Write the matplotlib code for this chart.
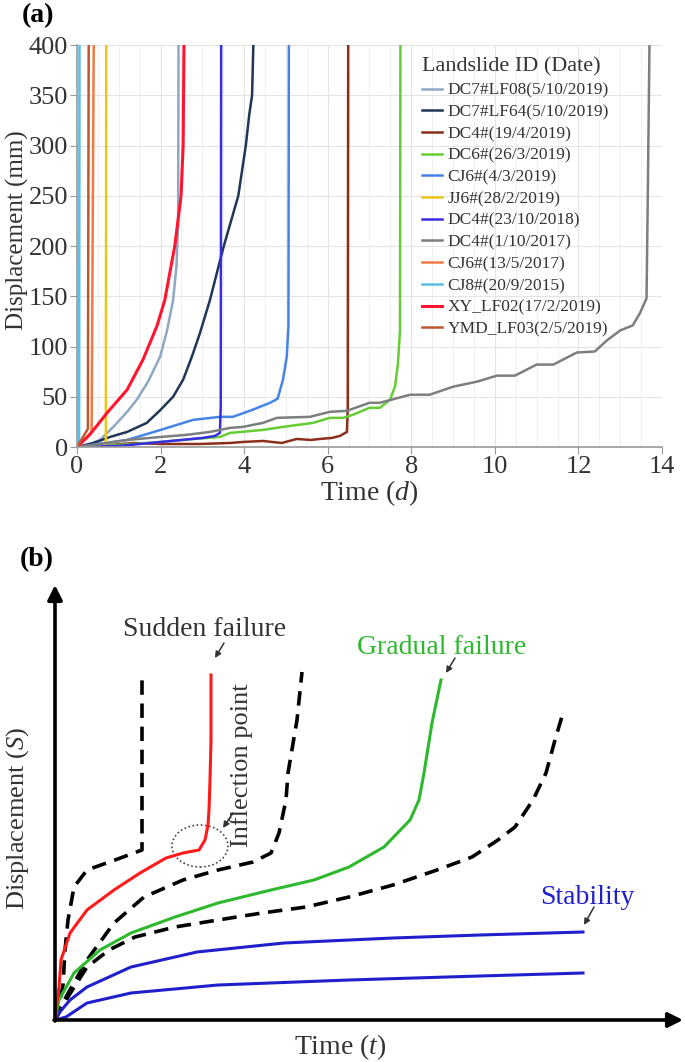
import matplotlib.pyplot as plt
from matplotlib.patches import Ellipse
from matplotlib.ticker import MultipleLocator

plt.rcParams['font.family'] = ['Liberation Serif', 'DejaVu Serif']
plt.rcParams['mathtext.fontset'] = 'custom'
plt.rcParams['mathtext.rm'] = 'Liberation Serif'
plt.rcParams['mathtext.it'] = 'Liberation Serif:italic'

# ---- panel (a): monitored displacement curves (time in days, displacement in mm)
lf08_t = [0, 0.3, 0.55, 0.87, 1.2, 1.43, 1.7, 1.99, 2.15, 2.3, 2.38, 2.42, 2.43]
lf08_s = [0, 3, 7, 20, 35, 47, 65, 90, 115, 146, 180, 220, 400]
lf64_t = [0, 0.4, 0.79, 1.2, 1.67, 2.0, 2.3, 2.54, 2.75, 2.94, 3.18, 3.5, 3.86, 4.04, 4.12, 4.19, 4.22]
lf64_s = [0, 4, 10, 15, 24, 37, 50, 67, 90, 113, 146, 198, 250, 300, 330, 350, 400]
dc4_2019_t = [0, 0.8, 1.35, 2.0, 2.94, 3.66, 3.97, 4.45, 4.9, 5.26, 5.6, 5.81, 6.1, 6.29, 6.46, 6.48, 6.49]
dc4_2019_s = [0, 2, 4, 3, 3, 4, 5, 6, 4, 8, 7, 8, 9, 11, 15, 40, 400]
dc6_t = [0, 1.0, 2.0, 2.8, 3.42, 3.66, 4.45, 4.93, 5.65, 6.05, 6.37, 6.6, 7.0, 7.25, 7.49, 7.61, 7.68, 7.73, 7.74]
dc6_s = [0, 2, 5, 8, 10, 14, 17, 20, 24, 29, 29, 32, 39, 39, 47, 60, 83, 116, 400]
cj6_2019_t = [0, 0.5, 1.2, 2.0, 2.78, 3.42, 3.73, 4.2, 4.62, 4.8, 4.93, 5.02, 5.06, 5.07]
cj6_2019_s = [0, 3, 7, 17, 27, 30, 30, 37, 44, 48, 67, 90, 120, 400]
jj6_t = [0, 0.5, 0.69, 0.7]
jj6_s = [0, 1, 2, 400]
dc4_2018_t = [0, 1.0, 1.5, 2.0, 2.5, 3.0, 3.3, 3.42, 3.44, 3.45]
dc4_2018_s = [0, 1, 3, 5, 7, 9, 11, 14, 40, 400]
dc4_2017_t = [0, 0.4, 1.2, 2.0, 2.6, 3.18, 3.66, 3.97, 4.45, 4.78, 5.57, 6.05, 6.46, 7.0, 7.25,
              7.97, 8.44, 9.0, 9.57, 10.05, 10.48, 11.0, 11.4, 11.96, 12.39, 12.68, 13.0, 13.3,
              13.47, 13.63, 13.66, 13.7]
dc4_2017_s = [0, 2, 7, 10, 12, 15, 19, 20, 24, 29, 30, 35, 36, 44, 44,
              52, 52, 60, 65, 71, 71, 82, 82, 94, 95, 106, 116, 121,
              133, 148, 250, 400]
cj6_2017_t = [0, 0.35, 0.4]
cj6_2017_s = [0, 15, 400]
cj8_t = [0, 0.05, 0.06]
cj8_s = [0, 5, 400]
xy_t = [0, 0.3, 0.72, 1.2, 1.58, 1.91, 2.1, 2.34, 2.49, 2.54, 2.56]
xy_s = [0, 12, 34, 57, 87, 120, 146, 200, 250, 300, 400]
ymd_t = [0, 0.26, 0.28]
ymd_s = [0, 18, 400]

labels = ["DC7#LF08(5/10/2019)", "DC7#LF64(5/10/2019)", "DC4#(19/4/2019)", "DC6#(26/3/2019)",
          "CJ6#(4/3/2019)", "JJ6#(28/2/2019)", "DC4#(23/10/2018)", "DC4#(1/10/2017)",
          "CJ6#(13/5/2017)", "CJ8#(20/9/2015)", "XY_LF02(17/2/2019)", "YMD_LF03(2/5/2019)"]
series = [(lf08_t, lf08_s), (lf64_t, lf64_s), (dc4_2019_t, dc4_2019_s), (dc6_t, dc6_s),
          (cj6_2019_t, cj6_2019_s), (jj6_t, jj6_s), (dc4_2018_t, dc4_2018_s),
          (dc4_2017_t, dc4_2017_s), (cj6_2017_t, cj6_2017_s), (cj8_t, cj8_s),
          (xy_t, xy_s), (ymd_t, ymd_s)]
colors = ["#8ea8c3", "#1f3658", "#8b2f1c", "#66cc33", "#4683e6", "#eec617",
          "#3a2be6", "#7c7f7f", "#f07a45", "#5cbde6", "#ff1530", "#c0582e"]

# ---- panel (b): schematic curves (arbitrary time / displacement units)
red_t = [0, 2, 4, 6, 15, 32, 59, 85, 111, 128, 144, 150, 153, 154, 155, 156, 156]
red_s = [0, 18, 33, 60, 87, 110, 130, 147, 162, 167, 170, 180, 195, 210, 240, 280, 345]
dash1_t = [0, 5, 8, 10, 13, 19, 32, 60, 87, 87]
dash1_s = [0, 20, 35, 70, 100, 133, 150, 160, 170, 345]
dash2_t = [0, 11, 32, 59, 89, 128, 163, 198, 216, 224, 231, 233, 242, 247]
dash2_s = [0, 23, 60, 97, 123, 140, 150, 158, 167, 187, 220, 247, 300, 348]
green_t = [0, 4, 19, 45, 76, 120, 163, 216, 259, 294, 329, 355, 364, 369, 377, 386]
green_s = [0, 20, 47, 70, 87, 103, 117, 130, 140, 153, 173, 200, 220, 247, 297, 340]
dash3_t = [0, 11, 32, 54, 80, 120, 163, 207, 251, 294, 338, 382, 417, 443, 460, 478, 491, 500, 508]
dash3_s = [0, 20, 53, 70, 83, 93, 100, 107, 113, 123, 135, 150, 163, 180, 193, 220, 247, 280, 307]
blue1_t = [0, 4, 15, 32, 76, 142, 229, 338, 425, 528]
blue1_s = [0, 7, 20, 33, 53, 68, 77, 82, 85, 88]
blue2_t = [0, 11, 32, 76, 163, 294, 425, 528]
blue2_s = [0, 3, 17, 27, 35, 40, 44, 47]

W, H = 685, 1062
fig = plt.figure(figsize=(W / 100, H / 100), dpi=100)

# ================= panel (a)
ax = fig.add_axes([77 / W, 1 - 447 / H, (662 - 77) / W, (447 - 45) / H])
for (t, s), lab, c in zip(series, labels, colors):
    ax.plot(t, s, color=c, lw=1.8 if c != "#ff1530" else 2.2, label=lab,
            solid_joinstyle="round")
ax.set_xlim(0, 14)
ax.set_ylim(0, 400)
ax.xaxis.set_major_locator(MultipleLocator(2))
ax.xaxis.set_minor_locator(MultipleLocator(0.5))
ax.yaxis.set_major_locator(MultipleLocator(50))
ax.grid(which="major", color="#e4e4e4", lw=0.8)
ax.grid(which="minor", axis="x", color="#f0f0f0", lw=0.7)
ax.set_axisbelow(True)
for side in ["top", "right"]:
    ax.spines[side].set_visible(False)
for side in ["left", "bottom"]:
    ax.spines[side].set_color("#9a9a9a")
    ax.spines[side].set_linewidth(1.2)
ax.tick_params(which="major", length=5, color="#9a9a9a", labelsize=19,
               labelcolor="#333333", pad=1.5)
ax.tick_params(which="minor", length=0)
ax.set_xlabel("Time ($\\it{d}$)", fontsize=20, color="#333333", labelpad=0)
ax.set_ylabel("Displacement (mm)", fontsize=18, color="#333333")
ax.yaxis.set_label_coords(-0.082, 0.54)

leg = ax.legend(loc="upper left", bbox_to_anchor=(406 / W, 1 - 42 / H),
                bbox_transform=fig.transFigure, frameon=False, fontsize=12.5,
                title="Landslide ID (Date)", title_fontsize=16, alignment="left",
                handlelength=1.2, handletextpad=0.3, labelspacing=0.32)
for txt in leg.get_texts():
    txt.set_color("#333333")
leg.get_title().set_color("#333333")

fig.text(22 / W, 1 - 16 / H, "(a)", fontsize=20, fontweight="bold", va="center")

# ================= panel (b)
bx = fig.add_axes([55 / W, 1 - 1020 / H, 630 / W, 480 / H])
bx.set_xlim(0, 630)
bx.set_ylim(0, 480)
bx.axis("off")

dash = (0, (4, 2.4))
bx.plot(dash1_t, dash1_s, color="black", lw=2.6, ls=dash)
bx.plot(dash2_t, dash2_s, color="black", lw=2.6, ls=dash)
bx.plot(dash3_t, dash3_s, color="black", lw=2.6, ls=dash)
bx.plot(blue2_t, blue2_s, color="#1f1fcc", lw=2.2)
bx.plot(blue1_t, blue1_s, color="#1f1fcc", lw=2.2)
bx.plot(green_t, green_s, color="#2db82d", lw=2.2)
bx.plot(red_t, red_s, color="#ff1a1a", lw=2.2)

bx.add_patch(Ellipse((145, 174), 56, 42, fill=False, ls=(0, (1, 1.5)),
                     lw=1.2, edgecolor="#444444"))

# axis arrows
bx.annotate("", xy=(0, 435), xytext=(0, -1),
            arrowprops=dict(arrowstyle="-|>", lw=2.6, color="black",
                            mutation_scale=22, shrinkA=0, shrinkB=0))
bx.annotate("", xy=(628, 0), xytext=(-1, 0),
            arrowprops=dict(arrowstyle="-|>", lw=2.6, color="black",
                            mutation_scale=22, shrinkA=0, shrinkB=0),
            annotation_clip=False)

bx.text(285, -27, "Time ($\\it{t}$)", fontsize=20, color="#333333",
        ha="center", va="center", clip_on=False)
bx.text(-37, 202, "Displacement ($\\it{S}$)", fontsize=19, color="#333333",
        ha="center", va="center", rotation=90, clip_on=False)
bx.text(150, 391, "Sudden failure", fontsize=20, color="#333333", ha="center", va="center")
bx.text(387, 373, "Gradual failure", fontsize=20, color="#2db82d", ha="center", va="center")
bx.text(532, 123, "Stability", fontsize=20, color="#1f1fcc", ha="center", va="center")
bx.text(187, 255, "Inflection point", fontsize=19, color="#333333", ha="center",
        va="center", rotation=90)

small = dict(arrowstyle="-|>", lw=1.1, color="#333333", mutation_scale=9,
             shrinkA=0, shrinkB=0)
bx.annotate("", xy=(160, 362), xytext=(169, 377), arrowprops=small)
bx.annotate("", xy=(391, 347), xytext=(400, 362), arrowprops=small)
bx.annotate("", xy=(529, 95), xytext=(539, 113), arrowprops=small)
bx.annotate("", xy=(168, 192), xytext=(178, 207), arrowprops=small)

fig.text(20 / W, 1 - 560 / H, "(b)", fontsize=20, fontweight="bold", va="center")

plt.savefig("out.png", dpi=100)
plt.close(fig)
